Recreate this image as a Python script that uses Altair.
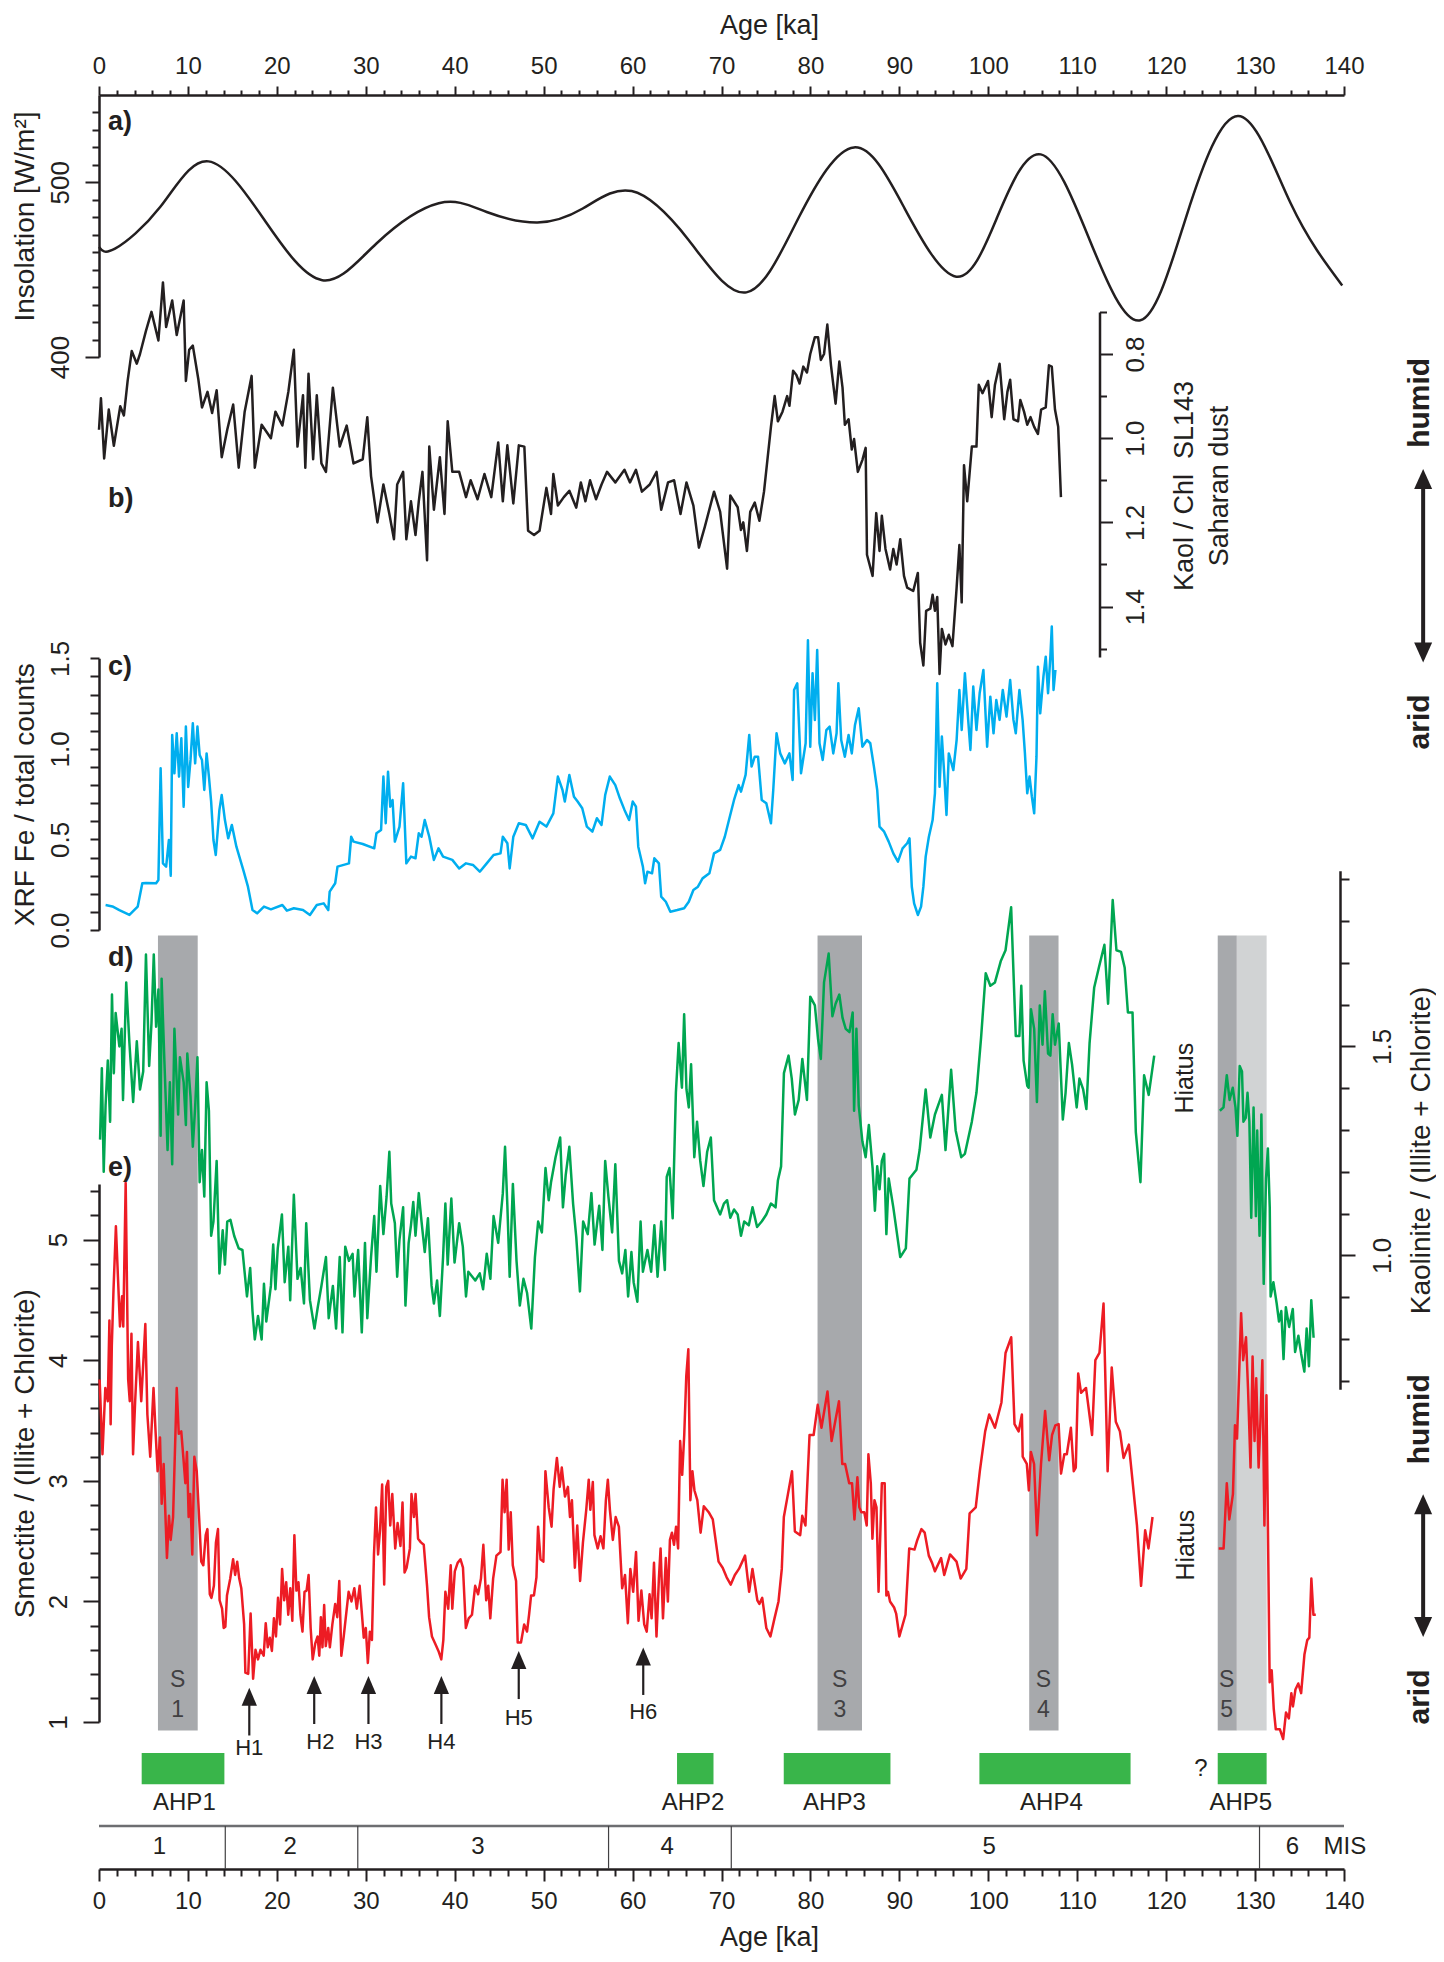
import altair as alt
import pandas as pd

# ---------------- values ----------------
# a) insolation (ka, W/m2)
INSOLATION = [(0, 463), (1.8, 462), (6.9, 486), (12.3, 512), (18.8, 477), (25.1, 444),
              (31.2, 465), (38.2, 488), (43.6, 483), (49.3, 477), (54.4, 485), (59.9, 495),
              (66.3, 467), (72.8, 437), (78.7, 480), (84.9, 520), (90.6, 485), (96.4, 446),
              (101.0, 480), (105.9, 516), (111.4, 467), (117.1, 421), (122.3, 481), (128.1, 538),
              (134.0, 488), (139.8, 441)]

# b) Kaol / Chl SL143 Saharan dust (ka, ratio)
KAOL_CHL = [
    (0.0, 0.98), (0.22, 0.905), (0.58, 1.048), (1.10, 0.932), (1.67, 1.018), (2.39, 0.924), (2.80, 0.946),
    (3.22, 0.864), (3.68, 0.793), (4.25, 0.823), (4.61, 0.80), (5.28, 0.745), (5.90, 0.70), (6.68, 0.768),
    (7.19, 0.63), (7.55, 0.736), (8.23, 0.673), (8.74, 0.755), (9.52, 0.673), (9.77, 0.864), (10.14, 0.79),
    (10.55, 0.78), (11.17, 0.86), (11.58, 0.927), (12.20, 0.89), (12.72, 0.94), (13.23, 0.886), (13.80, 1.045),
    (14.42, 0.98), (15.09, 0.92), (15.71, 1.07), (16.38, 0.937), (17.16, 0.852), (17.52, 1.07), (18.29, 0.968),
    (19.33, 1.0), (19.84, 0.937), (20.62, 0.97), (21.29, 0.89), (21.91, 0.79), (22.32, 1.02), (22.94, 0.898),
    (23.20, 1.07), (23.56, 0.847), (24.08, 1.05), (24.49, 0.898), (25.01, 1.06), (25.52, 1.08), (26.30, 0.88),
    (27.07, 1.02), (27.85, 0.97), (28.62, 1.06), (29.66, 1.05), (30.17, 0.95), (30.59, 1.09), (31.31, 1.20),
    (31.98, 1.11), (32.65, 1.18), (33.17, 1.24), (33.53, 1.11), (34.20, 1.08), (34.56, 1.24), (35.08, 1.15),
    (35.59, 1.23), (35.96, 1.15), (36.37, 1.08), (36.89, 1.29), (37.14, 1.02), (37.66, 1.17), (38.33, 1.045),
    (38.85, 1.18), (39.21, 0.96), (39.73, 1.08), (40.50, 1.08), (41.27, 1.14), (41.79, 1.10), (42.57, 1.145),
    (43.34, 1.085), (44.11, 1.14), (44.89, 1.01), (45.41, 1.15), (45.92, 1.017), (46.59, 1.155), (47.21, 1.017),
    (47.83, 1.02), (48.25, 1.22), (48.92, 1.23), (49.54, 1.22), (50.31, 1.118), (50.83, 1.18), (51.09, 1.085),
    (51.60, 1.16), (52.27, 1.14), (52.89, 1.125), (53.67, 1.165), (54.18, 1.105), (54.70, 1.15), (55.22, 1.10),
    (55.89, 1.145), (56.51, 1.11), (57.13, 1.08), (58.06, 1.105), (59.09, 1.075), (59.71, 1.105), (60.38, 1.075),
    (61.05, 1.127), (61.93, 1.11), (62.70, 1.08), (63.22, 1.17), (63.99, 1.105), (64.67, 1.10), (65.39, 1.18),
    (66.06, 1.105), (66.84, 1.16), (67.46, 1.26), (68.13, 1.21), (69.16, 1.127), (69.85, 1.175), (70.63, 1.31),
    (70.99, 1.136), (71.82, 1.164), (72.19, 1.218), (72.45, 1.20), (72.86, 1.268), (73.23, 1.175), (73.74, 1.153),
    (74.26, 1.196), (74.78, 1.127), (75.56, 0.973), (75.98, 0.90), (76.34, 0.96), (76.86, 0.937), (77.38, 0.90),
    (77.64, 0.923), (78.05, 0.84), (78.42, 0.85), (78.78, 0.87), (79.20, 0.83), (79.61, 0.844), (79.98, 0.80),
    (80.50, 0.76), (80.86, 0.76), (81.17, 0.814), (81.53, 0.80), (81.90, 0.73), (82.31, 0.827), (82.83, 0.918),
    (83.25, 0.818), (83.61, 0.88), (83.87, 0.968), (84.29, 0.955), (84.65, 1.027), (84.91, 1.002), (85.33, 1.08),
    (85.84, 1.052), (86.21, 1.023), (86.36, 1.277), (86.99, 1.327), (87.40, 1.178), (87.77, 1.268), (88.03, 1.184),
    (88.44, 1.263), (88.96, 1.312), (89.32, 1.263), (89.69, 1.30), (90.10, 1.24), (90.52, 1.327), (90.88, 1.355),
    (91.56, 1.363), (92.08, 1.32), (92.34, 1.486), (92.70, 1.54), (93.01, 1.41), (93.48, 1.405), (93.74, 1.372),
    (94.00, 1.41), (94.26, 1.377), (94.52, 1.56), (94.78, 1.453), (95.19, 1.49), (95.56, 1.467), (95.97, 1.494),
    (96.44, 1.355), (96.75, 1.254), (97.01, 1.39), (97.27, 1.064), (97.63, 1.15), (98.15, 1.02), (98.67, 1.02),
    (98.93, 0.873), (99.35, 0.893), (99.97, 0.864), (100.38, 0.95), (100.75, 0.873), (101.27, 0.823),
    (101.79, 0.955), (102.15, 0.89), (102.46, 0.861), (102.83, 0.955), (103.35, 0.96), (103.60, 0.909),
    (104.02, 0.937), (104.38, 0.968), (104.75, 0.95), (105.16, 0.973), (105.58, 0.99), (105.94, 0.932),
    (106.46, 0.927), (106.82, 0.827), (107.14, 0.83), (107.50, 0.932), (107.86, 0.973), (108.17, 1.14),
]

# c) XRF Fe / total counts (ka, value)
XRF_FE = [
    (0.74, 0.138), (1.51, 0.13), (2.29, 0.11), (3.42, 0.083), (4.35, 0.129), (4.87, 0.258), (5.28, 0.26),
    (6.42, 0.258), (6.68, 0.276), (6.93, 0.893), (7.19, 0.368), (7.55, 0.35), (7.86, 0.497), (8.07, 0.30),
    (8.23, 1.077), (8.48, 0.865), (8.74, 1.086), (9.00, 0.847), (9.26, 1.058), (9.52, 0.681), (9.77, 1.123),
    (10.03, 0.79), (10.29, 0.939), (10.55, 1.141), (10.81, 0.92), (11.07, 1.123), (11.32, 0.966), (11.58, 0.939),
    (11.84, 0.773), (12.10, 0.975), (12.36, 0.847), (12.61, 0.709), (12.87, 0.497), (13.13, 0.414), (13.54, 0.663),
    (13.80, 0.745), (14.16, 0.607), (14.53, 0.506), (14.94, 0.58), (15.45, 0.46), (16.23, 0.331), (16.75, 0.239),
    (17.26, 0.11), (17.78, 0.092), (18.55, 0.129), (19.33, 0.114), (20.62, 0.138), (21.13, 0.107), (21.91, 0.12),
    (22.94, 0.11), (23.72, 0.083), (24.49, 0.138), (25.27, 0.147), (25.78, 0.11), (25.94, 0.212), (26.56, 0.258),
    (26.82, 0.35), (28.11, 0.368), (28.36, 0.515), (28.62, 0.488), (29.66, 0.475), (30.95, 0.451), (31.20, 0.534),
    (31.72, 0.552), (31.98, 0.847), (32.24, 0.589), (32.50, 0.874), (32.75, 0.681), (33.01, 0.718), (33.27, 0.488),
    (33.79, 0.571), (34.20, 0.81), (34.56, 0.368), (35.08, 0.405), (35.59, 0.396), (35.96, 0.534), (36.27, 0.515),
    (36.63, 0.607), (37.14, 0.515), (37.66, 0.387), (38.18, 0.451), (38.69, 0.405), (39.73, 0.387), (40.50, 0.34),
    (41.27, 0.368), (42.05, 0.359), (42.82, 0.322), (43.60, 0.368), (44.37, 0.414), (45.15, 0.423), (45.41, 0.515),
    (45.92, 0.479), (46.18, 0.34), (46.59, 0.515), (47.21, 0.589), (47.99, 0.58), (48.76, 0.506), (49.54, 0.598),
    (50.31, 0.571), (51.09, 0.644), (51.60, 0.847), (52.12, 0.773), (52.38, 0.709), (52.89, 0.856), (53.41, 0.736),
    (53.82, 0.709), (54.34, 0.672), (54.86, 0.571), (55.48, 0.543), (55.99, 0.617), (56.51, 0.58), (56.92, 0.745),
    (57.44, 0.847), (58.06, 0.80), (58.57, 0.727), (59.09, 0.663), (59.61, 0.607), (60.02, 0.709), (60.38, 0.681),
    (60.64, 0.46), (61.16, 0.35), (61.41, 0.258), (61.67, 0.322), (62.19, 0.313), (62.45, 0.396), (62.96, 0.368),
    (63.22, 0.184), (63.74, 0.156), (64.25, 0.101), (65.03, 0.11), (65.80, 0.12), (66.32, 0.156), (66.84, 0.221),
    (67.35, 0.239), (67.87, 0.285), (68.64, 0.313), (69.16, 0.423), (69.85, 0.442), (70.37, 0.515), (70.89, 0.617),
    (71.41, 0.718), (71.93, 0.80), (72.19, 0.764), (72.71, 0.856), (73.12, 1.077), (73.38, 0.902), (73.74, 0.957),
    (74.11, 0.957), (74.52, 0.718), (75.04, 0.70), (75.56, 0.589), (75.82, 0.773), (76.19, 1.086), (76.60, 0.975),
    (77.12, 0.92), (77.64, 0.975), (78.00, 0.828), (78.16, 1.325), (78.52, 1.362), (78.94, 0.865), (79.46, 1.031),
    (79.72, 1.60), (79.98, 1.012), (80.24, 1.417), (80.50, 1.16), (80.76, 1.546), (81.02, 1.031), (81.38, 0.939),
    (81.79, 1.104), (82.16, 1.123), (82.57, 0.975), (82.94, 1.086), (83.14, 1.362), (83.46, 1.049), (83.87, 0.957),
    (84.29, 1.077), (84.65, 0.975), (85.01, 1.132), (85.43, 1.224), (85.84, 1.012), (86.36, 1.049), (86.73, 1.031),
    (87.14, 0.902), (87.51, 0.773), (87.77, 0.571), (88.29, 0.543), (88.80, 0.488), (89.32, 0.423), (89.84, 0.377),
    (90.36, 0.451), (90.88, 0.479), (91.14, 0.506), (91.40, 0.239), (91.66, 0.147), (92.08, 0.083), (92.44, 0.129),
    (92.70, 0.239), (92.96, 0.405), (93.32, 0.515), (93.74, 0.607), (94.00, 0.755), (94.26, 1.362), (94.52, 0.791),
    (94.78, 1.068), (95.04, 0.865), (95.30, 0.635), (95.56, 0.975), (96.07, 0.883), (96.44, 1.049), (96.75, 1.325),
    (97.01, 1.104), (97.37, 1.417), (97.74, 1.16), (97.99, 0.994), (98.31, 1.344), (98.67, 1.104), (99.03, 1.307),
    (99.45, 1.436), (99.87, 1.012), (100.23, 1.288), (100.59, 1.086), (100.90, 1.27), (101.27, 1.16),
    (101.63, 1.325), (102.05, 1.178), (102.46, 1.38), (102.83, 1.16), (103.09, 1.086), (103.50, 1.325),
    (103.86, 1.16), (104.12, 0.975), (104.38, 0.755), (104.64, 0.847), (104.90, 0.736), (105.16, 0.644),
    (105.42, 0.957), (105.58, 1.454), (105.84, 1.196), (106.20, 1.399), (106.46, 1.509), (106.72, 1.307),
    (106.98, 1.509), (107.14, 1.675), (107.34, 1.325), (107.55, 1.436),
]

# d) Kaolinite / (Illite + Chlorite), two segments split by the hiatus
KAOLINITE_1 = [
    (0.12, 1.277), (0.32, 1.448), (0.53, 1.20), (0.74, 1.359), (0.99, 1.466), (1.25, 1.32), (1.46, 1.624),
    (1.67, 1.436), (1.87, 1.58), (2.29, 1.50), (2.54, 1.542), (2.70, 1.372), (3.06, 1.653), (3.42, 1.508),
    (3.84, 1.367), (4.25, 1.512), (4.61, 1.397), (4.97, 1.44), (5.28, 1.72), (5.64, 1.453), (5.90, 1.555),
    (6.16, 1.72), (6.42, 1.547), (6.68, 1.636), (6.93, 1.286), (7.04, 1.662), (7.35, 1.466), (7.71, 1.252),
    (7.97, 1.414), (8.23, 1.218), (8.48, 1.542), (8.90, 1.337), (9.10, 1.474), (9.52, 1.414), (9.77, 1.312),
    (9.93, 1.483), (10.29, 1.38), (10.55, 1.26), (10.81, 1.354), (11.07, 1.474), (11.32, 1.175), (11.58, 1.252),
    (11.84, 1.141), (12.10, 1.414), (12.36, 1.346), (12.61, 1.047), (12.87, 1.081), (13.23, 1.226), (13.54, 0.957),
    (13.91, 1.06), (14.16, 0.978), (14.42, 1.081), (14.78, 1.085), (15.20, 1.047), (15.71, 1.017), (16.13, 1.013),
    (16.64, 0.902), (17.00, 0.97), (17.26, 0.867), (17.52, 0.799), (17.88, 0.855), (18.29, 0.799), (18.55, 0.932),
    (18.81, 0.842), (19.33, 0.927), (19.59, 1.026), (19.84, 0.919), (20.10, 1.017), (20.57, 1.098), (20.88, 0.936),
    (21.29, 1.021), (21.50, 0.893), (21.91, 1.145), (22.32, 0.944), (22.68, 0.97), (23.05, 0.885), (23.30, 1.077),
    (23.72, 0.893), (24.23, 0.825), (24.60, 0.876), (25.01, 0.927), (25.52, 0.996), (25.83, 0.85), (26.30, 0.927),
    (26.66, 0.825), (27.07, 0.996), (27.38, 0.816), (27.69, 1.021), (28.11, 0.987), (28.52, 1.004), (28.73, 0.902),
    (29.14, 1.013), (29.55, 0.816), (29.91, 1.03), (30.17, 0.85), (30.59, 0.996), (30.95, 1.094), (31.20, 0.961),
    (31.62, 1.166), (31.98, 1.051), (32.34, 1.141), (32.65, 1.248), (32.86, 1.124), (33.27, 1.077), (33.53, 0.949),
    (33.79, 1.038), (34.20, 1.115), (34.46, 0.88), (34.82, 1.03), (35.08, 1.072), (35.34, 1.128), (35.59, 1.047),
    (35.96, 1.149), (36.27, 1.081), (36.63, 1.008), (36.99, 1.089), (37.40, 0.927), (37.66, 0.885), (38.02, 0.94),
    (38.33, 0.855), (38.69, 0.996), (38.95, 1.124), (39.21, 0.978), (39.62, 1.136), (39.98, 0.983), (40.50, 1.077),
    (40.91, 1.021), (41.27, 0.902), (41.53, 0.961), (42.31, 0.94), (42.82, 0.957), (43.19, 0.919), (43.60, 1.004),
    (44.01, 0.944), (44.37, 1.094), (44.89, 1.03), (45.41, 1.149), (45.66, 1.26), (45.92, 1.119), (46.18, 0.949),
    (46.54, 1.171), (46.95, 0.987), (47.32, 0.88), (47.73, 0.944), (48.14, 0.91), (48.61, 0.825), (49.02, 0.996),
    (49.38, 1.081), (49.80, 1.055), (50.21, 1.209), (50.57, 1.132), (50.83, 1.175), (51.34, 1.235), (51.86, 1.282),
    (52.17, 1.115), (52.48, 1.192), (52.89, 1.26), (53.31, 1.124), (53.67, 1.043), (54.08, 0.914), (54.44, 1.081),
    (54.96, 1.051), (55.37, 1.149), (55.73, 1.026), (56.25, 1.119), (56.61, 1.013), (56.92, 1.226), (57.28, 1.141),
    (57.70, 1.055), (58.06, 1.218), (58.47, 0.987), (58.83, 0.957), (59.19, 1.013), (59.50, 0.902), (59.87, 1.008),
    (60.12, 0.936), (60.54, 0.889), (60.90, 1.081), (61.16, 0.961), (61.67, 1.013), (62.09, 0.961), (62.45, 1.072),
    (62.81, 0.949), (63.22, 1.081), (63.63, 0.965), (63.84, 1.188), (64.15, 1.209), (64.51, 1.089), (64.87, 1.389),
    (65.18, 1.508), (65.55, 1.401), (65.80, 1.577), (66.06, 1.397), (66.32, 1.354), (66.58, 1.457), (66.94, 1.235),
    (67.25, 1.32), (67.61, 1.226), (67.97, 1.166), (68.39, 1.248), (68.80, 1.282), (69.16, 1.132), (69.85, 1.098),
    (70.27, 1.124), (70.63, 1.132), (70.99, 1.09), (71.41, 1.11), (71.82, 1.098), (72.19, 1.047), (72.55, 1.081),
    (73.07, 1.072), (73.49, 1.115), (74.00, 1.068), (74.52, 1.081), (75.04, 1.098), (75.56, 1.124), (76.08, 1.115),
    (76.34, 1.179), (76.70, 1.213), (77.02, 1.436), (77.54, 1.478), (77.90, 1.423), (78.26, 1.337), (78.68, 1.372),
    (79.09, 1.47), (79.61, 1.372), (79.98, 1.619), (80.50, 1.598), (80.86, 1.517), (81.17, 1.47), (81.53, 1.653),
    (82.05, 1.722), (82.47, 1.572), (82.83, 1.602), (83.25, 1.624), (83.61, 1.568), (83.97, 1.542), (84.39, 1.534),
    (84.75, 1.581), (84.91, 1.346), (85.17, 1.542), (85.43, 1.359), (85.84, 1.273), (86.21, 1.235), (86.57, 1.312),
    (86.99, 1.209), (87.25, 1.107), (87.51, 1.213), (87.77, 1.158), (88.03, 1.226), (88.29, 1.243), (88.54, 1.051),
    (88.80, 1.184), (89.32, 1.115), (90.10, 0.996), (90.73, 1.017), (91.14, 1.184), (91.92, 1.205), (92.28, 1.252),
    (92.96, 1.397), (93.48, 1.282), (94.00, 1.337), (94.78, 1.384), (95.19, 1.252), (95.82, 1.444), (96.33, 1.299),
    (96.96, 1.235), (97.37, 1.243), (98.15, 1.32), (98.67, 1.389), (99.19, 1.521), (99.71, 1.675), (100.23, 1.645),
    (100.75, 1.653), (101.42, 1.705), (101.94, 1.73), (102.57, 1.833), (103.09, 1.525), (103.50, 1.525),
    (103.71, 1.645), (103.97, 1.466), (104.38, 1.406), (104.54, 1.401), (104.80, 1.589), (105.16, 1.542),
    (105.47, 1.367), (105.79, 1.598), (106.10, 1.504), (106.36, 1.632), (106.72, 1.483), (106.98, 1.478),
    (107.24, 1.577), (107.50, 1.504), (107.92, 1.555), (108.38, 1.325), (108.69, 1.389), (109.06, 1.508),
    (109.42, 1.457), (109.94, 1.354), (110.25, 1.423), (110.67, 1.397), (111.03, 1.35), (111.39, 1.508),
    (111.91, 1.641), (112.43, 1.688), (113.06, 1.743), (113.47, 1.602), (113.99, 1.85), (114.41, 1.73),
    (114.93, 1.726), (115.34, 1.688), (115.70, 1.581), (116.22, 1.581), (116.59, 1.295), (117.11, 1.175),
    (117.52, 1.431), (118.04, 1.384), (118.66, 1.478),
]
KAOLINITE_2 = [
    (126.04, 1.346), (126.45, 1.354), (126.82, 1.431), (127.13, 1.372), (127.49, 1.401), (127.80, 1.354),
    (128.01, 1.286), (128.27, 1.453), (128.53, 1.44), (128.69, 1.32), (128.95, 1.329), (129.15, 1.389),
    (129.36, 1.32), (129.57, 1.09), (129.83, 1.354), (130.09, 1.094), (130.24, 1.299), (130.50, 1.047),
    (130.71, 1.337), (130.97, 0.932), (131.23, 1.184), (131.44, 1.256), (131.65, 1.115), (131.75, 0.902),
    (132.06, 0.936), (132.43, 0.885), (132.69, 0.842), (132.95, 0.867), (133.20, 0.752), (133.46, 0.876),
    (133.83, 0.829), (134.24, 0.872), (134.50, 0.769), (134.87, 0.808), (135.18, 0.765), (135.54, 0.722),
    (135.80, 0.825), (136.06, 0.735), (136.32, 0.893), (136.58, 0.803),
]

# e) Smectite / (Illite + Chlorite), two segments split by the hiatus
SMECTITE_1 = [
    (0.07, 3.84), (0.39, 3.22), (0.71, 3.77), (0.99, 3.66), (1.17, 4.33), (1.31, 3.47), (1.44, 4.12), (1.63, 4.58),
    (1.90, 5.11), (2.13, 4.69), (2.36, 4.28), (2.59, 4.53), (2.73, 4.28), (3.00, 5.47), (3.28, 3.84), (3.46, 3.66),
    (3.65, 4.22), (3.83, 3.22), (4.06, 3.65), (4.38, 4.15), (4.75, 3.66), (5.21, 4.30), (5.44, 3.55), (5.76, 3.20),
    (6.13, 3.77), (6.36, 3.41), (6.59, 3.08), (6.86, 3.36), (7.05, 2.81), (7.27, 3.14), (7.64, 2.36), (7.87, 2.71),
    (8.06, 2.51), (8.33, 2.70), (8.74, 3.77), (8.97, 3.39), (9.25, 3.41), (9.48, 3.20), (9.71, 2.98), (9.89, 3.24),
    (10.08, 2.70), (10.26, 2.89), (10.49, 2.39), (10.72, 3.20), (10.99, 3.08), (11.27, 2.68), (11.50, 2.33),
    (11.73, 2.30), (12.00, 2.55), (12.19, 2.60), (12.46, 2.06), (12.65, 2.03), (12.92, 2.13), (13.15, 2.49),
    (13.38, 2.60), (13.56, 2.01), (13.84, 1.94), (14.02, 1.78), (14.21, 1.79), (14.39, 2.05), (14.76, 2.19),
    (15.08, 2.35), (15.31, 2.22), (15.54, 2.33), (15.77, 2.19), (16.00, 2.11), (16.32, 1.81), (16.46, 1.41),
    (16.78, 1.40), (17.05, 1.90), (17.33, 1.36), (17.60, 1.60), (17.88, 1.52), (18.16, 1.60), (18.52, 1.55),
    (18.75, 1.82), (18.98, 1.62), (19.21, 1.70), (19.44, 1.59), (19.67, 1.86), (19.90, 1.71), (20.13, 2.03),
    (20.36, 1.81), (20.59, 2.27), (20.82, 2.01), (21.05, 2.16), (21.28, 1.89), (21.51, 2.11), (21.74, 1.84),
    (21.97, 2.55), (22.20, 2.09), (22.43, 2.16), (22.65, 1.89), (22.88, 1.75), (23.11, 2.08), (23.34, 2.09),
    (23.57, 2.22), (23.80, 1.78), (24.03, 1.52), (24.31, 1.65), (24.58, 1.71), (24.77, 1.55), (24.95, 1.87),
    (25.13, 1.62), (25.32, 1.97), (25.50, 1.63), (25.78, 1.78), (25.96, 1.62), (26.24, 1.81), (26.56, 1.98),
    (26.79, 1.87), (27.02, 2.17), (27.25, 1.55), (27.52, 1.71), (27.80, 1.90), (28.07, 2.08), (28.39, 2.00),
    (28.71, 2.11), (28.99, 1.94), (29.31, 2.13), (29.54, 1.92), (29.77, 1.70), (30.00, 1.78), (30.23, 1.49),
    (30.46, 1.75), (30.69, 1.68), (30.92, 2.39), (31.15, 2.78), (31.38, 2.39), (31.61, 2.60), (31.84, 2.97),
    (32.07, 2.14), (32.30, 2.95), (32.52, 3.00), (32.75, 2.63), (32.98, 2.89), (33.31, 2.44), (33.58, 2.65),
    (33.90, 2.46), (34.13, 2.82), (34.36, 2.24), (34.59, 2.28), (34.96, 2.44), (35.14, 2.89), (35.42, 2.70),
    (35.60, 2.89), (35.88, 2.52), (36.20, 2.49), (36.52, 2.47), (36.89, 2.13), (37.12, 1.87), (37.44, 1.71),
    (37.81, 1.65), (38.17, 1.59), (38.49, 1.52), (38.72, 1.68), (38.95, 2.08), (39.27, 1.94), (39.55, 2.30),
    (39.73, 1.94), (40.01, 2.25), (40.33, 2.32), (40.65, 2.35), (40.93, 2.28), (41.25, 1.78), (41.57, 1.86),
    (41.94, 1.89), (42.30, 2.13), (42.63, 2.06), (42.95, 2.19), (43.22, 2.47), (43.54, 2.01), (43.77, 2.13),
    (44.00, 1.86), (44.32, 2.19), (44.69, 2.38), (45.15, 2.41), (45.38, 3.01), (45.61, 2.74), (45.84, 3.01),
    (46.07, 2.43), (46.30, 2.74), (46.53, 2.30), (46.90, 2.17), (47.08, 1.66), (47.45, 1.66), (47.81, 1.81),
    (48.13, 1.75), (48.36, 1.89), (48.59, 2.05), (48.91, 2.05), (49.19, 2.20), (49.37, 2.62), (49.65, 2.35),
    (49.97, 2.33), (50.20, 3.08), (50.57, 2.78), (50.89, 2.62), (51.12, 2.93), (51.49, 3.19), (51.81, 2.95),
    (52.04, 3.11), (52.40, 2.87), (52.73, 2.95), (52.96, 2.70), (53.18, 2.84), (53.51, 2.28), (53.78, 2.63),
    (54.10, 2.17), (54.42, 2.49), (54.79, 2.76), (55.07, 3.01), (55.25, 2.76), (55.53, 2.99), (55.71, 2.55),
    (56.08, 2.44), (56.40, 2.54), (56.72, 2.44), (57.00, 2.84), (57.22, 3.01), (57.45, 2.76), (57.78, 2.51),
    (58.10, 2.70), (58.46, 2.62), (58.83, 2.11), (59.15, 2.22), (59.47, 1.82), (59.75, 2.27), (60.07, 2.08),
    (60.39, 2.41), (60.67, 1.84), (60.99, 2.09), (61.31, 1.81), (61.59, 1.75), (61.91, 2.06), (62.14, 1.86),
    (62.41, 2.32), (62.69, 1.71), (62.96, 2.19), (63.15, 2.44), (63.42, 1.86), (63.74, 2.36), (63.97, 2.00),
    (64.20, 2.51), (64.43, 2.57), (64.66, 2.47), (64.89, 2.62), (65.12, 2.44), (65.35, 3.33), (65.58, 3.05),
    (65.81, 3.38), (66.04, 3.87), (66.27, 4.09), (66.50, 2.84), (66.73, 3.08), (66.96, 2.92), (67.28, 2.84),
    (67.65, 2.57), (68.01, 2.79), (68.56, 2.74), (69.02, 2.68), (69.67, 2.33), (70.13, 2.28), (70.58, 2.20),
    (71.04, 2.14), (71.50, 2.22), (71.96, 2.27), (72.65, 2.38), (73.11, 2.08), (73.48, 2.27), (74.03, 2.01),
    (74.26, 1.98), (74.58, 2.03), (75.04, 1.78), (75.50, 1.71), (75.96, 1.86), (76.41, 2.00), (76.78, 2.27),
    (77.01, 2.70), (77.47, 2.89), (77.93, 3.08), (78.25, 2.58), (78.85, 2.55), (79.08, 2.71), (79.44, 2.63),
    (79.90, 3.38), (80.36, 3.38), (80.82, 3.63), (81.24, 3.44), (81.92, 3.74), (82.38, 3.33), (83.21, 3.66),
    (83.58, 3.14), (83.90, 3.14), (84.36, 2.98), (84.68, 2.98), (84.95, 2.68), (85.28, 3.03), (85.50, 2.78),
    (85.73, 2.74), (86.06, 2.74), (86.33, 2.63), (86.52, 3.22), (86.79, 2.98), (86.97, 2.52), (87.20, 2.84),
    (87.43, 2.78), (87.66, 2.08), (88.03, 2.98), (88.35, 2.98), (88.54, 2.05), (88.72, 2.08), (88.95, 2.00),
    (89.41, 1.95), (89.64, 1.90), (90.00, 1.71), (90.69, 1.89), (91.11, 2.44), (91.70, 2.43), (92.02, 2.51),
    (92.48, 2.60), (92.85, 2.57), (93.31, 2.38), (93.68, 2.32), (94.00, 2.25), (94.69, 2.36), (95.05, 2.22),
    (95.70, 2.39), (96.43, 2.33), (96.89, 2.19), (97.53, 2.27), (97.90, 2.73), (98.59, 2.78), (99.05, 3.08),
    (99.65, 3.41), (100.10, 3.55), (100.75, 3.44), (101.48, 3.65), (101.94, 4.06), (102.58, 4.19), (102.95, 3.47),
    (103.41, 3.41), (103.78, 3.55), (103.87, 3.20), (104.33, 3.14), (104.56, 2.92), (104.79, 3.24), (105.15, 3.14),
    (105.48, 2.55), (105.93, 3.14), (106.39, 3.58), (106.85, 3.17), (107.17, 3.38), (107.54, 3.46), (107.91, 3.47),
    (108.18, 3.06), (108.55, 3.22), (108.83, 3.22), (109.29, 3.44), (109.61, 3.08), (109.84, 3.11), (110.11, 3.89),
    (110.43, 3.73), (110.99, 3.77), (111.67, 3.38), (112.04, 4.00), (112.50, 4.06), (112.96, 4.47), (113.42, 3.08),
    (113.88, 3.94), (114.34, 3.49), (114.80, 3.41), (115.21, 3.19), (115.81, 3.30), (116.26, 2.97), (116.72, 2.63),
    (117.18, 2.13), (117.64, 2.59), (118.01, 2.44), (118.47, 2.70),
]
SMECTITE_2 = [
    (125.91, 2.44), (126.46, 2.44), (126.82, 2.98), (127.10, 2.68), (127.51, 2.89), (127.74, 3.46), (127.97, 3.35),
    (128.43, 4.39), (128.66, 4.00), (128.98, 4.19), (129.21, 3.76), (129.49, 3.11), (129.72, 4.03), (129.94, 3.33),
    (130.13, 3.85), (130.40, 3.11), (130.59, 3.47), (130.82, 4.00), (131.05, 2.63), (131.28, 3.71), (131.64, 1.33),
    (131.87, 1.43), (132.10, 1.11), (132.33, 0.94), (132.79, 0.94), (133.16, 0.86), (133.48, 1.08), (133.80, 1.03),
    (134.08, 1.24), (134.26, 1.13), (134.54, 1.27), (134.86, 1.32), (135.18, 1.24), (135.55, 1.56), (135.87, 1.68),
    (136.10, 1.70), (136.33, 2.19), (136.56, 1.89), (136.83, 1.89),
]

# grey sapropel bands (label, start ka, end ka, shade)
SAPROPELS = [("S1", 6.63, 11.1, "dark"), ("S3", 80.8, 85.8, "dark"), ("S4", 104.6, 107.9, "dark"),
             ("S5", 125.8, 127.95, "dark"), ("S5b", 127.95, 131.3, "light")]
SAPROPEL_LABELS = [("S", "1", 8.85), ("S", "3", 83.3), ("S", "4", 106.2), ("S", "5", 126.8)]
# African humid periods (label, start, end, label centre)
AHP = [("AHP1", 4.8, 14.1, 9.6), ("AHP2", 65.0, 69.1, 66.8), ("AHP3", 77.0, 89.0, 82.7),
       ("AHP4", 99.0, 116.0, 107.1), ("AHP5", 125.8, 131.3, 128.4)]
# Heinrich events (label, age)
HEINRICH = [("H1", 16.9), ("H2", 24.2), ("H3", 30.3), ("H4", 38.5), ("H5", 47.2), ("H6", 61.2)]
# marine isotope stages
MIS_BOUNDS = [14.2, 29.1, 57.3, 71.1, 130.5]
MIS_LABELS = [("1", 6.8), ("2", 21.5), ("3", 42.6), ("4", 63.9), ("5", 100.1), ("6", 134.2), ("MIS", 140.1)]

# tick values
X_TICKS = list(range(0, 141, 2))
A_TICKS = [400, 410, 420, 430, 440, 450, 460, 470, 480, 490, 500, 510, 520, 530, 540]
B_TICKS = [0.7, 0.8, 0.9, 1.0, 1.1, 1.2, 1.3, 1.4, 1.5]
C_TICKS = [0.0, 0.1, 0.2, 0.3, 0.4, 0.5, 0.6, 0.7, 0.8, 0.9, 1.0, 1.1, 1.2, 1.3, 1.4, 1.5]
D_TICKS = [0.7, 0.8, 0.9, 1.0, 1.1, 1.2, 1.3, 1.4, 1.5, 1.6, 1.7, 1.8, 1.9]
E_TICKS = [1.0, 1.2, 1.4, 1.6, 1.8, 2.0, 2.2, 2.4, 2.6, 2.8, 3.0, 3.2, 3.4, 3.6, 3.8, 4.0, 4.2, 4.4,
           4.6, 4.8, 5.0, 5.2, 5.4]

# ---------------- layout / style ----------------
FONT = "Liberation Sans, Arial, Helvetica, sans-serif"
NARROW = "Liberation Sans Narrow, Arial Narrow, Liberation Sans, Arial, sans-serif"
INK = "#231f20"
W, H = 1245, 1774
XSCALE = alt.Scale(domain=[0, 140], nice=False, zero=False)

# vertical placement of each panel inside the common plot area (domain, pixel range)
PANEL = {
    "a": ([400, 550], [262, 0]),
    "b": ([0.7, 1.52], [216.9, 562.1]),
    "c": ([0, 1.5], [835, 563.3]),
    "d": ([0.68, 1.92], [1294.2, 775.8]),
    "e": ([1, 5.46], [1627.1, 1089.1]),
}


def ysc(p):
    dom, rng = PANEL[p]
    return alt.Scale(domain=dom, range=rng, nice=False, zero=False)


AX = dict(domainColor=INK, domainWidth=2.5, tickColor=INK, tickWidth=2, labelColor=INK, titleColor=INK,
          grid=False, labelOverlap=False, labelFlush=False, labelBound=False, titleFontWeight="normal")


def cond(test, big, small):
    return {"condition": {"test": test, "value": big}, "value": small}


XAX = dict(values=X_TICKS, labelExpr="datum.value % 10 === 0 ? datum.label : ''", labelFontSize=24,
           labelAngle=0, title="Age [ka]", titleFontSize=27, titleX=670, labelFont=NARROW, titleFont=NARROW)
x_top = alt.Axis(orient="top", tickSize=cond("datum.value % 10 === 0", 9, 5), labelPadding=8,
                 titlePadding=15, **XAX, **AX)
x_bot = alt.Axis(orient="bottom", tickSize=cond("datum.value % 10 === 0", 12, 7), labelPadding=8,
                 titlePadding=11, **XAX, **AX)

ROT_L = dict(labelAngle=270, labelAlign="center", labelBaseline="bottom", labelFontSize=26,
             titleFontSize=28, titleAngle=270, titleAlign="center", titleBaseline="middle", titleX=-74,
             labelFont=FONT, titleFont=FONT)
ROT_R = dict(labelAngle=270, labelAlign="center", labelBaseline="top", labelFontSize=26,
             labelFont=FONT, titleFont=FONT)

ax_a = alt.Axis(orient="left", values=A_TICKS, tickSize=cond("datum.value % 100 === 0", 14, 7),
                labelExpr="datum.value % 100 === 0 ? datum.label : ''", labelPadding=12,
                title="Insolation [W/m²]", titleY=121, **ROT_L, **AX)
ax_b = alt.Axis(orient="right", offset=-244.5, values=B_TICKS,
                tickSize=cond("round(datum.value * 10) % 2 === 0", 13, 7),
                labelExpr="round(datum.value * 10) % 2 === 0 ? format(datum.value, '.1f') : ''",
                labelPadding=10, title=None, **ROT_R, **AX)
ax_c = alt.Axis(orient="left", values=C_TICKS, tickSize=9,
                labelExpr="round(datum.value * 10) % 5 === 0 ? format(datum.value, '.1f') : ''",
                labelPadding=17, title="XRF Fe / total counts", **ROT_L, **AX)
ax_d = alt.Axis(orient="right", offset=-4, values=D_TICKS,
                tickSize=cond("round(datum.value * 10) % 5 === 0", 15, 9),
                labelExpr="(round(datum.value * 10) === 10 || round(datum.value * 10) === 15) ? format(datum.value, '.1f') : ''",
                labelPadding=14, title="Kaolinite / (Illite + Chlorite)", titleFontSize=28, titleAngle=270,
                titleAlign="center", titleBaseline="middle", titleX=81, titleY=1055, **ROT_R, **AX)
ax_e = alt.Axis(orient="left", values=E_TICKS,
                tickSize=cond("abs(datum.value - round(datum.value)) < 0.01", 16, 9),
                labelExpr="abs(datum.value - round(datum.value)) < 0.01 ? format(datum.value, 'd') : ''",
                labelPadding=12, title="Smectite / (Illite + Chlorite)", **ROT_L, **AX)


def X(field, axis=None):
    return alt.X(field, type="quantitative", scale=XSCALE, axis=axis)


def series(pairs, seg=1):
    return pd.DataFrame({"age": [p[0] for p in pairs], "val": [p[1] for p in pairs], "seg": seg})


def line(df, panel, color, axis=None, xaxis=None, interp="linear", width=2.5):
    return alt.Chart(df).mark_line(color=color, strokeWidth=width, interpolate=interp,
                                   strokeJoin="round").encode(
        x=X("age", xaxis), y=alt.Y("val:Q", scale=ysc(panel), axis=axis), detail="seg:N")


def texts(rows, panel, size, weight="normal", angle=0, color=INK, align="center", baseline="middle",
          font=FONT):
    df = pd.DataFrame(rows, columns=["x", "y", "t"])
    return alt.Chart(df).mark_text(fontSize=size, fontWeight=weight, angle=angle, color=color, align=align,
                                   baseline=baseline, font=font).encode(
        x=X("x"), y=alt.Y("y:Q", scale=ysc(panel), axis=None), text="t:N")


def heads(rows, panel, path, size):
    df = pd.DataFrame(rows, columns=["x", "y"])
    return alt.Chart(df).mark_point(shape=path, size=size, filled=True, color=INK, opacity=1,
                                    strokeWidth=0).encode(
        x=X("x"), y=alt.Y("y:Q", scale=ysc(panel), axis=None))


def vrules(rows, panel, width, color=INK):
    df = pd.DataFrame(rows, columns=["x", "y", "y2"])
    return alt.Chart(df).mark_rule(color=color, strokeWidth=width).encode(
        x=X("x"), y=alt.Y("y:Q", scale=ysc(panel), axis=None), y2="y2:Q")


UP = "M0,-1L0.9,1L-0.9,1Z"
DOWN = "M0,1L0.9,-1L-0.9,-1Z"

layers = []

# sapropel bands (drawn in the e-panel units, spanning panels d and e)
band_df = pd.DataFrame([(s[1], s[2], s[3]) for s in SAPROPELS], columns=["x0", "x1", "shade"])
band_df["y0"] = 0.93
band_df["y1"] = 7.52
layers.append(alt.Chart(band_df).mark_rect().encode(
    x=X("x0"), x2="x1", y=alt.Y("y0:Q", scale=ysc("e"), axis=None), y2="y1:Q",
    color=alt.Color("shade:N", scale=alt.Scale(domain=["dark", "light"], range=["#a7a9ac", "#d1d3d4"]),
                    legend=None)))

# AHP bars
ahp_df = pd.DataFrame([(a[1], a[2]) for a in AHP], columns=["x0", "x1"])
ahp_df["y0"] = 0.485
ahp_df["y1"] = 0.744
layers.append(alt.Chart(ahp_df).mark_rect(color="#39b54a").encode(
    x=X("x0"), x2="x1", y=alt.Y("y0:Q", scale=ysc("e"), axis=None), y2="y1:Q"))

# MIS strip
mis_line = pd.DataFrame({"x0": [0], "x1": [140], "y": [0.139]})
layers.append(alt.Chart(mis_line).mark_rule(color="#6d6e71", strokeWidth=2.5).encode(
    x=X("x0"), x2="x1", y=alt.Y("y:Q", scale=ysc("e"), axis=None)))
layers.append(vrules([(b, 0.139, -0.217) for b in MIS_BOUNDS], "e", 1.2, "#414042"))
layers.append(texts([(m[1], -0.035, m[0]) for m in MIS_LABELS], "e", 24, font=NARROW))

# data series
layers.append(line(series(INSOLATION), "a", INK, axis=ax_a, xaxis=x_top, interp="natural"))
layers.append(line(series(KAOL_CHL), "b", INK, axis=ax_b))
layers.append(line(series(XRF_FE), "c", "#00aeef", axis=ax_c))
layers.append(line(pd.concat([series(KAOLINITE_1, 1), series(KAOLINITE_2, 2)]), "d", "#00a651", axis=ax_d))
layers.append(line(pd.concat([series(SMECTITE_1, 1), series(SMECTITE_2, 2)]), "e", "#ed1c24", axis=ax_e,
                   xaxis=x_bot))

# panel letters
layers.append(texts([(1.0, 534.5, "a)")], "a", 27, "bold", align="left"))
layers.append(texts([(1.0, 1.144, "b)")], "b", 27, "bold", align="left"))
layers.append(texts([(1.0, 1.452, "c)")], "c", 27, "bold", align="left"))
layers.append(texts([(1.0, 1.711, "d)")], "d", 27, "bold", align="left"))
layers.append(texts([(1.0, 5.591, "e)")], "e", 27, "bold", align="left"))

# b-axis title
layers.append(texts([(122.1, 1.1135, "Kaol / Chl\u00a0 SL143"), (126.1, 1.1135, "Saharan dust")], "b", 27,
                    angle=270))

# hiatus notes
layers.append(texts([(122.1, 1.424, "Hiatus")], "d", 25, angle=270))
layers.append(texts([(122.2, 2.467, "Hiatus")], "e", 25, angle=270))

# sapropel labels
layers.append(texts([(s[2], 1.349, s[0]) for s in SAPROPEL_LABELS] +
                    [(s[2], 1.104, s[1]) for s in SAPROPEL_LABELS], "e", 23, color="#414042"))

# Heinrich arrows
H_TIP = {"H1": 1.285, "H5": 1.589, "H6": 1.618}
H_BASE = {"H1": 0.889, "H5": 1.191, "H6": 1.225}
H_LAB = {"H1": 0.785, "H5": 1.034, "H6": 1.08}
hr, hh, hl = [], [], []
for name, age in HEINRICH:
    tip = H_TIP.get(name, 1.382)
    base = H_BASE.get(name, 0.984)
    lab = H_LAB.get(name, 0.835)
    hr.append((age, base, tip - 0.07))
    hh.append((age, tip - 0.075))
    hl.append((age + (0.7 if name == "H2" else 0), lab, name))
layers.append(vrules(hr, "e", 2.2))
layers.append(heads(hh, "e", "M0,-1L0.85,1L-0.85,1Z", 324))
layers.append(texts(hl, "e", 22))

# AHP labels
layers.append(texts([(a[3], 0.33, a[0]) for a in AHP] + [(123.9, 0.612, "?")], "e", 24, font=NARROW))

# humid / arid indicators
layers.append(texts([(148.6, 0.916, "humid"), (148.6, 1.674, "arid")], "b", 30, "bold", angle=270))
layers.append(vrules([(148.9, 1.097, 1.509)], "b", 4))
layers.append(heads([(148.9, 1.097)], "b", UP, 400))
layers.append(heads([(148.9, 1.509)], "b", DOWN, 400))
layers.append(texts([(148.6, 3.511, "humid"), (148.6, 1.208, "arid")], "e", 30, "bold", angle=270))
layers.append(vrules([(148.9, 2.806, 1.788)], "e", 4))
layers.append(heads([(148.9, 2.806)], "e", UP, 400))
layers.append(heads([(148.9, 1.788)], "e", DOWN, 400))

chart = alt.layer(*layers).properties(
    width=W, height=H,
    padding={"left": 91, "top": 87, "right": 92, "bottom": 84},
    autosize=alt.AutoSizeParams(type="none"),
).resolve_scale(y="independent").resolve_axis(x="independent", y="independent").configure(
    font=FONT, view=alt.ViewConfig(strokeWidth=0))

chart.save("out.html", embed_options={"renderer": "svg", "actions": False})
